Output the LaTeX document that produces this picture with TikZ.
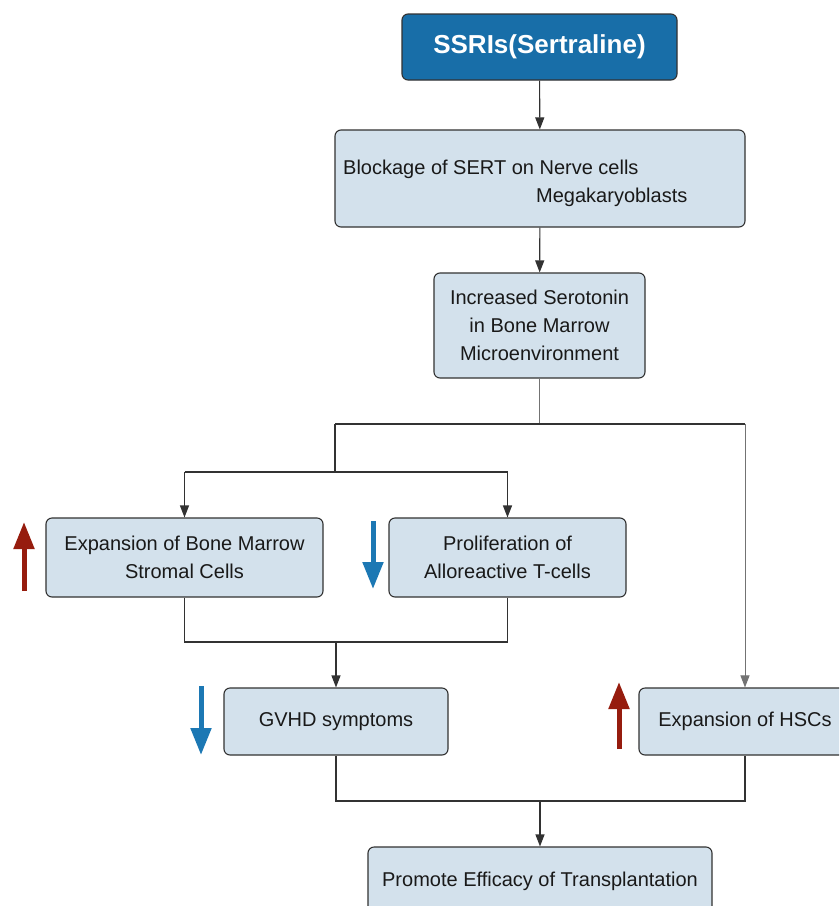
\documentclass[tikz,border=0pt]{standalone}
\usepackage{fontspec}
\setmainfont{Liberation Sans}
\usetikzlibrary{arrows.meta}
\definecolor{darkbox}{RGB}{24,110,168}
\definecolor{lightbox}{RGB}{211,225,236}
\definecolor{edgegray}{RGB}{50,50,50}
\definecolor{upred}{RGB}{150,28,14}
\definecolor{downblue}{RGB}{28,120,180}
\begin{document}
\begin{tikzpicture}[x=1pt,y=-1pt,
  box/.style={draw=edgegray,line width=1.1pt,rounded corners=6pt,fill=lightbox,
    inner sep=0pt,align=center,font=\fontsize{20}{28}\selectfont,text=black!90},
  topbox/.style={box,fill=darkbox,text=white,font=\fontsize{26}{30}\selectfont\bfseries},
  txt/.style={inner sep=0pt,font=\fontsize{20}{28}\selectfont,text=black!90},
  conn/.style={draw=edgegray,line width=1.1pt},
  thinconn/.style={draw=black!55,line width=1pt},
  arr/.style={conn,-{Triangle[length=12pt,width=9pt]}},
  uparrow/.style={draw=upred,line width=5pt,-{Triangle[length=27pt,width=20pt]}},
  downarrow/.style={draw=downblue,line width=5pt,-{Triangle[length=27pt,width=20pt]}}]
\clip (0,0) rectangle (839,906);
\fill[white] (0,0) rectangle (839,906);

\node[topbox,minimum width=275pt,minimum height=66pt] (ssri) at (539.5,47) {SSRIs(Sertraline)};
\node[box,minimum width=410pt,minimum height=97pt] (blk) at (540,178.5) {};
\node[txt,anchor=west] (blk1) at (343,169) {Blockage of SERT on Nerve cells};
\node[txt,anchor=west] (blk2) at (536,197) {Megakaryoblasts};
\node[box,minimum width=211pt,minimum height=105pt] (ser) at (539.5,325.5) {Increased Serotonin\\in Bone Marrow\\Microenvironment};
\node[box,minimum width=277pt,minimum height=79pt] (bmsc) at (184.5,557.5) {Expansion of Bone Marrow\\Stromal Cells};
\node[box,minimum width=237pt,minimum height=79pt] (tcell) at (507.5,557.5) {Proliferation of\\Alloreactive T-cells};
\node[box,minimum width=224pt,minimum height=67pt] (gvhd) at (336,721.5) {GVHD symptoms};
\node[box,minimum width=212pt,minimum height=67pt] (hsc) at (745,721.5) {Expansion of HSCs};
\node[box,minimum width=344pt,minimum height=68pt] (prom) at (540,881) {Promote Efficacy of Transplantation};

% junction coordinates
\coordinate (j1) at (539.5,424);
\coordinate (j1l) at (335,424);
\coordinate (j1r) at (745,424);
\coordinate (j2) at (335,472);
\coordinate (j2l) at (184.5,472);
\coordinate (j2r) at (507.5,472);
\coordinate (j3l) at (184.5,642);
\coordinate (j3r) at (507.5,642);
\coordinate (j3) at (336,642);
\coordinate (j4l) at (336,801);
\coordinate (j4r) at (745,801);
\coordinate (j4) at (540,801);

\draw[arr] (ssri) -- (blk);
\draw[arr] (blk) -- (ser);
\draw[thinconn] (ser.south) -- (j1);
\draw[conn] (j1l) -- (j1r);
\draw[conn] (j1l) -- (j2);
\draw[conn] (j2l) -- (j2r);
\draw[arr] (j2l) -- (bmsc.north);
\draw[arr] (j2r) -- (tcell.north);
\draw[thinconn,-{Triangle[length=12pt,width=9pt]}] (j1r) -- (hsc.north);
\draw[conn] (bmsc.south) -- (j3l) -- (j3r) -- (tcell.south);
\draw[arr] (j3) -- (gvhd.north);
\draw[conn] (gvhd.south) -- (j4l) -- (j4r) -- (hsc.south);
\draw[arr] (j4) -- (prom.north);

% up / down indicator arrows
\coordinate (r1a) at (24,591); \coordinate (r1b) at (24,522);
\coordinate (b1a) at (373,521); \coordinate (b1b) at (373,589);
\coordinate (b2a) at (201,686); \coordinate (b2b) at (201,755);
\coordinate (r2a) at (619,749); \coordinate (r2b) at (619,682);
\draw[uparrow] (r1a) -- (r1b);
\draw[downarrow] (b1a) -- (b1b);
\draw[downarrow] (b2a) -- (b2b);
\draw[uparrow] (r2a) -- (r2b);
\end{tikzpicture}
\end{document}
